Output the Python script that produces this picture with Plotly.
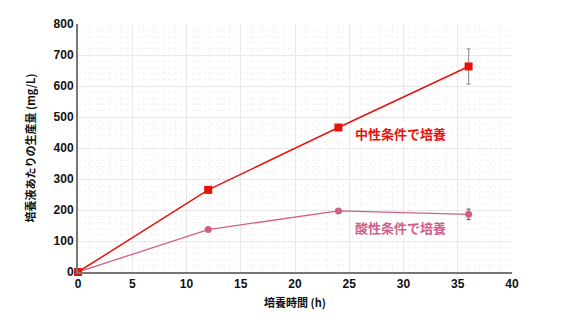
import plotly.graph_objects as go

time_h = [0, 12, 24, 36]
neutral = [0, 265, 466, 663]
neutral_err = [0, 10, 8, 57]
acid = [0, 137, 197, 186]
acid_err = [0, 5, 4, 17]

x_ticks = [0, 5, 10, 15, 20, 25, 30, 35, 40]
y_ticks = [0, 100, 200, 300, 400, 500, 600, 700, 800]

red = "#e8120c"
pink = "#d0608a"

fig = go.Figure()
fig.add_trace(go.Scatter(
    x=time_h, y=acid, mode="lines+markers",
    line=dict(color=pink, width=1.3),
    marker=dict(symbol="circle", size=7, color=pink),
    error_y=dict(type="data", array=acid_err, visible=True, color="#555555", thickness=1, width=2),
    showlegend=False, cliponaxis=False))
fig.add_trace(go.Scatter(
    x=time_h, y=neutral, mode="lines+markers",
    line=dict(color=red, width=1.5),
    marker=dict(symbol="square", size=8, color=red),
    error_y=dict(type="data", array=neutral_err, visible=True, color="#999999", thickness=1.2, width=2),
    showlegend=False, cliponaxis=False))

fig.add_annotation(x=29.7, y=448, xref="x", yref="y", text="<b>中性条件で培養</b>",
                   showarrow=False, font=dict(color=red, size=13, family="Noto Sans CJK JP"),
                   bgcolor="white")
fig.add_annotation(x=29.7, y=142, xref="x", yref="y", text="<b>酸性条件で培養</b>",
                   showarrow=False, font=dict(color=pink, size=13, family="Noto Sans CJK JP"),
                   bgcolor="white")

axis_font = dict(family="Liberation Sans, Arial", size=12, color="#111111")
fig.update_layout(
    width=567, height=319,
    margin=dict(l=78, r=55, t=24, b=47),
    paper_bgcolor="white", plot_bgcolor="white",
    font=dict(family="Liberation Sans, Noto Sans CJK JP", color="#111111"),
    xaxis=dict(range=[0, 40], tickvals=x_ticks, ticktext=[f"<b>{v}</b>" for v in x_ticks],
               showline=True, linecolor="#777777", linewidth=2, automargin=False,
               showgrid=True, gridcolor="#e8e8e8", gridwidth=1,
               minor=dict(dtick=1, showgrid=True, gridcolor="#f3f3f3", griddash="dot"),
               zeroline=False, ticks="", tickfont=axis_font,
               title=dict(text="<b>培養時間 (h)</b>", font=dict(size=11, family="Noto Sans CJK JP"), standoff=9)),
    yaxis=dict(range=[0, 800], tickvals=y_ticks, ticktext=[f"<b>{v}</b>" for v in y_ticks],
               showline=True, linecolor="#777777", linewidth=2, automargin=False,
               showgrid=True, gridcolor="#e8e8e8", gridwidth=1,
               minor=dict(dtick=20, showgrid=True, gridcolor="#f3f3f3", griddash="dot"),
               zeroline=False, ticks="", tickfont=axis_font,
               title=dict(text="<b>培養液あたりの生産量 (mg/L)</b>", font=dict(size=11, family="Noto Sans CJK JP"), standoff=16)),
)
fig.write_html("out.html")
